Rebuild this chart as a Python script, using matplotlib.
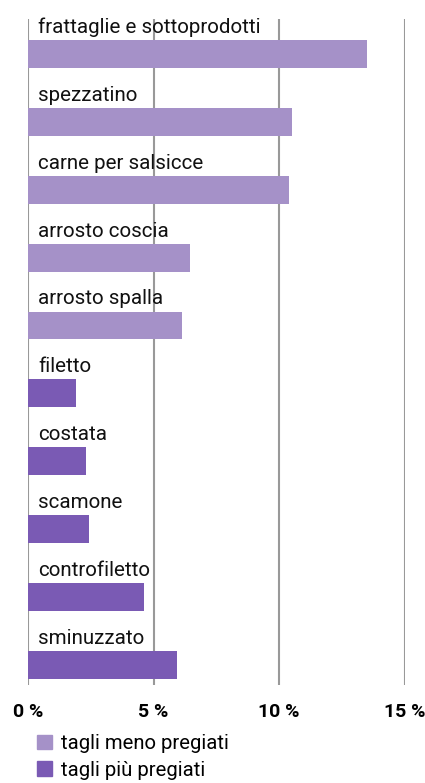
import matplotlib.pyplot as plt
from matplotlib.patches import Patch

plt.rcParams['font.family'] = ['Roboto', 'DejaVu Sans']

cuts = ['frattaglie e sottoprodotti', 'spezzatino', 'carne per salsicce',
        'arrosto coscia', 'arrosto spalla', 'filetto', 'costata', 'scamone',
        'controfiletto', 'sminuzzato']
shares = [13.5, 10.5, 10.4, 6.45, 6.15, 1.9, 2.3, 2.45, 4.62, 5.92]
group = ['meno', 'meno', 'meno', 'meno', 'meno', 'piu', 'piu', 'piu', 'piu', 'piu']
group_labels = {'meno': 'tagli meno pregiati', 'piu': 'tagli più pregiati'}
xticks = [0, 5, 10, 15]
xticklabels = ['0 %', '5 %', '10 %', '15 %']

colors = {'meno': '#A591C8', 'piu': '#7A5AB4'}

fig = plt.figure(figsize=(4.25, 7.83), dpi=100)
ax = fig.add_axes([28 / 425, 1 - 685 / 783, (404.5 - 28) / 425, (685 - 19) / 783])

ypos = list(range(len(cuts)))
ax.barh(ypos, shares, height=0.41, color=[colors[g] for g in group], zorder=3)
for y, name in zip(ypos, cuts):
    ax.text(0.4, y - 0.31, name, fontsize=14.8, va='baseline', ha='left', color='#111111')

ax.set_xlim(0, 15)
ax.set_ylim(9.295, -0.515)
ax.set_xticks(xticks)
ax.set_xticklabels(xticklabels, fontsize=14, fontweight='bold')
ax.set_yticks([])
ax.tick_params(axis='x', length=0, pad=13)
for x in xticks:
    ax.axvline(x, color='#999999', lw=1.5, zorder=1)
for s in ax.spines.values():
    s.set_visible(False)

handles = [Patch(color=colors[k], label=v) for k, v in group_labels.items()]
fig.legend(handles=handles, loc='upper left', bbox_to_anchor=(37 / 425, 1 - 734 / 783),
           frameon=False, fontsize=14.6, handlelength=0.72, handleheight=0.72,
           handletextpad=0.45, labelspacing=0.38, borderpad=0, borderaxespad=0)

fig.savefig('out.png', dpi=100)
